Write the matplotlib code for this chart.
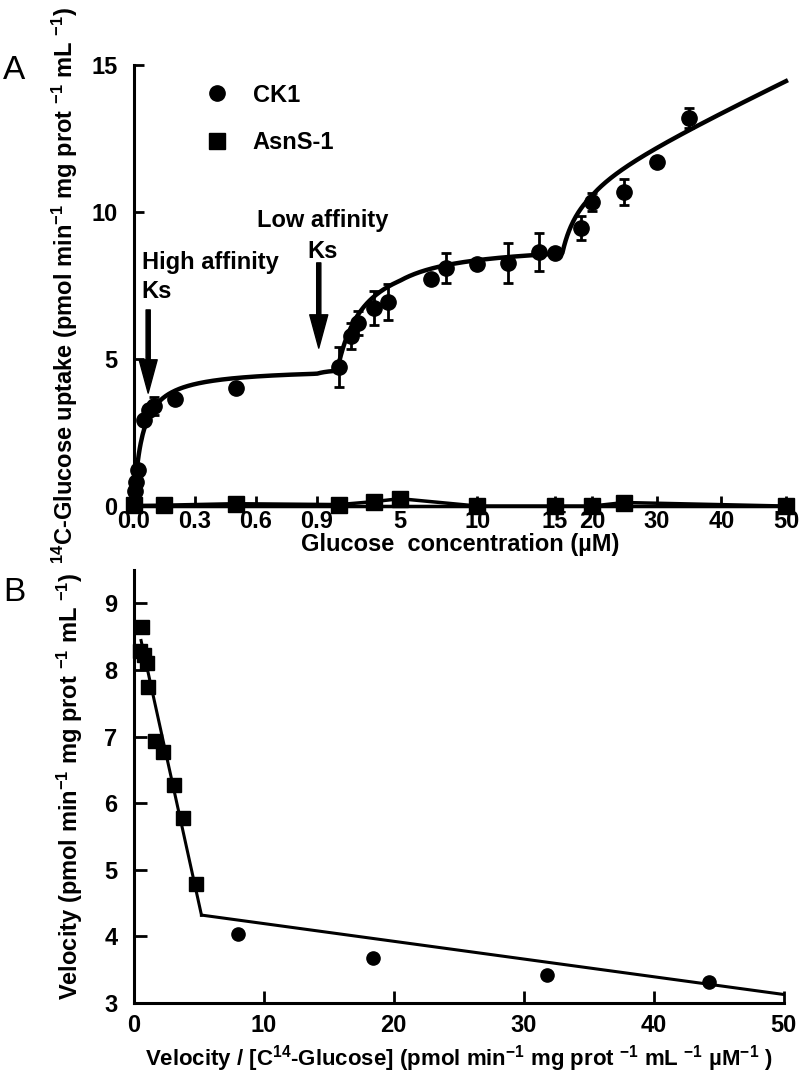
import numpy as np
import matplotlib
matplotlib.use("Agg")
import matplotlib.pyplot as plt
from matplotlib.lines import Line2D

plt.rcParams['font.family'] = ['Liberation Sans', 'DejaVu Sans']
plt.rcParams['font.weight'] = 'bold'
plt.rcParams['axes.labelweight'] = 'bold'
plt.rcParams['mathtext.fontset'] = 'custom'
plt.rcParams['mathtext.rm'] = 'Liberation Sans:bold'
plt.rcParams['mathtext.bf'] = 'Liberation Sans:bold'
plt.rcParams['mathtext.it'] = 'Liberation Sans:bold'
plt.rcParams['mathtext.sf'] = 'Liberation Sans:bold'
plt.rcParams['mathtext.default'] = 'rm'

# ---------------- Panel A data ----------------
ck1_conc = [0.0, 0.005, 0.01, 0.02, 0.05, 0.075, 0.1, 0.2, 0.5, 2.0, 2.6, 2.95,
            3.7, 4.4, 7, 8, 10, 12, 14, 15, 18.5, 20, 25, 30, 35]
ck1_uptake = [0.05, 0.5, 0.82, 1.22, 2.93, 3.27, 3.4, 3.65, 4.0, 4.73, 5.78, 6.22,
              6.73, 6.94, 7.72, 8.1, 8.23, 8.27, 8.64, 8.6, 9.46, 10.34, 10.68, 11.7, 13.2]
ck1_err = [0, 0, 0, 0, 0, 0, 0.3, 0, 0, 0.68, 0.45, 0.4,
           0.58, 0.6, 0.15, 0.5, 0, 0.68, 0.64, 0, 0.4, 0.3, 0.45, 0, 0.35]

asn_conc = [0, 0.15, 0.5, 2.0, 3.7, 5, 10, 15, 20, 25, 50]
asn_uptake = [0.02, 0.03, 0.08, 0.05, 0.15, 0.25, 0.0, 0.0, 0.0, 0.12, 0.0]

# kinetic fit parameters (high- and low-affinity saturating phases,
# then saturable + linear component)
vmax_high, ks_high, s_break1 = 4.7, 0.04, 1.9
vmax_low, ks_low, s_break2 = 4.38, 1.34, 16.0
vmax_third, ks_third, k_linear = 2.5, 2.5, 0.1035

xtick_vals = [0, 0.3, 0.6, 0.9, 5, 10, 15, 20, 30, 40, 50]
xtick_labels = ['0.0', '0.3', '0.6', '0.9', '5', '10', '15', '20', '30', '40', '50']
ytick_a = [0, 5, 10, 15]

# ---------------- Panel B data ----------------
b_sq_x = [0.59, 0.5, 0.75, 0.97, 1.1, 1.62, 2.26, 3.1, 3.8, 4.74]
b_sq_y = [8.645, 8.28, 8.22, 8.1, 7.74, 6.94, 6.77, 6.28, 5.78, 4.78]
b_ci_x = [8.0, 18.4, 31.8, 44.3]
b_ci_y = [4.03, 3.67, 3.42, 3.31]
fit1_intercept, fit1_slope, fit1_range = 8.93, -0.887, (0.55, 5.2)
fit2_intercept, fit2_slope, fit2_range = 4.458, -0.0266, (5.2, 50)

# ---------------- figure ----------------
fig = plt.figure(figsize=(8.02, 10.85), dpi=100)
axA = fig.add_axes([0.167, 0.5336, 0.813, 0.4065])
axB = fig.add_axes([0.167, 0.0756, 0.810, 0.399])

# piecewise axis scale for glucose concentration
seg_conc = [0, 0.9, 5, 15, 20, 50]
seg_len = [0, 183, 266, 421, 458, 652]
def fwd(x):
    return np.interp(x, seg_conc, seg_len)
def inv(y):
    return np.interp(y, seg_len, seg_conc)
axA.set_xscale('function', functions=(fwd, inv))

# fitted curve
s1 = np.linspace(0, s_break1, 400)
v1 = vmax_high * s1 / (ks_high + s1)
base1 = vmax_high * s_break1 / (ks_high + s_break1)
s2 = np.linspace(s_break1, s_break2, 300)
v2 = base1 + vmax_low * (s2 - s_break1) / (ks_low + s2 - s_break1)
base2 = v2[-1]
s3 = np.linspace(s_break2, 50, 300)
d3 = s3 - s_break2
v3 = base2 + vmax_third * d3 / (ks_third + d3) + k_linear * d3
s_all = np.concatenate([s1, s2, s3])
v_all = np.concatenate([v1, v2, v3])
axA.plot(s_all, v_all, color='black', lw=3.2, clip_on=False, zorder=3)

# AsnS-1
axA.plot(asn_conc, asn_uptake, color='black', lw=2.5, marker='s', ms=12,
         clip_on=False, zorder=4)
axA.plot([0, 50], [0, 0], color='black', lw=2.5, clip_on=False, zorder=3)

# CK1
axA.errorbar(ck1_conc, ck1_uptake, yerr=ck1_err, fmt='o', color='black', ms=11,
             elinewidth=2, capsize=3.5, capthick=2, clip_on=False, zorder=5)

axA.set_xlim(0, 50)
axA.set_ylim(0, 15)
axA.set_xticks(xtick_vals)
axA.set_xticklabels(xtick_labels)
axA.set_yticks(ytick_a)
axA.minorticks_off()
for sp in ['top', 'right']:
    axA.spines[sp].set_visible(False)
for sp in ['left', 'bottom']:
    axA.spines[sp].set_linewidth(2.2)
axA.tick_params(direction='in', length=7, width=2, labelsize=17)
axA.tick_params(axis='x', pad=3)
axA.tick_params(axis='y', pad=12)
axA.set_xlabel('Glucose  concentration (µM)', fontsize=17, labelpad=0)
axA.set_ylabel(r'$^{14}$C-Glucose uptake (pmol min$^{-1}$ mg prot $^{-1}$ mL $^{-1}$)',
               fontsize=17, labelpad=8)

# annotations
arrow_kw = dict(width=3, headwidth=13, headlength=24, color='black', shrink=0)
axA.annotate('', xy=(0.07, 3.84), xytext=(0.07, 6.67), arrowprops=arrow_kw)
axA.annotate('', xy=(0.99, 5.37), xytext=(0.99, 8.27), arrowprops=arrow_kw)
axA.text(0.038, 8.06, 'High affinity', fontsize=17, ha='left', va='baseline')
axA.text(0.038, 7.07, 'Ks', fontsize=17, ha='left', va='baseline')
axA.text(1.2, 9.5, 'Low affinity', fontsize=17, ha='center', va='baseline')
axA.text(1.2, 8.43, 'Ks', fontsize=17, ha='center', va='baseline')

handles = [Line2D([], [], marker='o', ls='none', color='black', ms=11),
           Line2D([], [], marker='s', ls='none', color='black', ms=12)]
axA.legend(handles, ['CK1', 'AsnS-1'], loc='upper left', bbox_to_anchor=(0.11, 0.958),
           frameon=False, fontsize=17, handlelength=1.0, handletextpad=1.0,
           labelspacing=1.05, borderpad=0, borderaxespad=0)

# ---------------- Panel B ----------------
xf1 = np.linspace(*fit1_range, 50)
axB.plot(xf1, fit1_intercept + fit1_slope * xf1, color='black', lw=2.2, zorder=3)
xf2 = np.linspace(*fit2_range, 50)
axB.plot(xf2, fit2_intercept + fit2_slope * xf2, color='black', lw=2.2, zorder=3)
axB.plot(b_sq_x, b_sq_y, 's', color='black', ms=10, zorder=4, clip_on=False)
axB.plot(b_ci_x, b_ci_y, 'o', color='black', ms=9.5, zorder=4, clip_on=False)
axB.set_xlim(0, 50)
axB.set_ylim(3, 9.5)
axB.set_xticks([0, 10, 20, 30, 40, 50])
axB.set_yticks([3, 4, 5, 6, 7, 8, 9])
for sp in ['top', 'right']:
    axB.spines[sp].set_visible(False)
for sp in ['left', 'bottom']:
    axB.spines[sp].set_linewidth(2.2)
axB.tick_params(direction='in', length=9, width=2, labelsize=17, pad=8)
axB.tick_params(axis='y', pad=12)
axB.set_xlabel(r'Velocity / [C$^{14}$-Glucose] (pmol min$^{-1}$ mg prot $^{-1}$ mL $^{-1}$ µM$^{-1}$ )',
               fontsize=16, labelpad=4)
axB.set_ylabel(r'Velocity (pmol min$^{-1}$ mg prot $^{-1}$ mL $^{-1}$)', fontsize=17, labelpad=14)

fig.text(0.004, 0.935, 'A', fontsize=24, fontweight='normal', ha='left', va='center')
fig.text(0.004, 0.454, 'B', fontsize=24, fontweight='normal', ha='left', va='center')

fig.savefig('out.png', dpi=100)
